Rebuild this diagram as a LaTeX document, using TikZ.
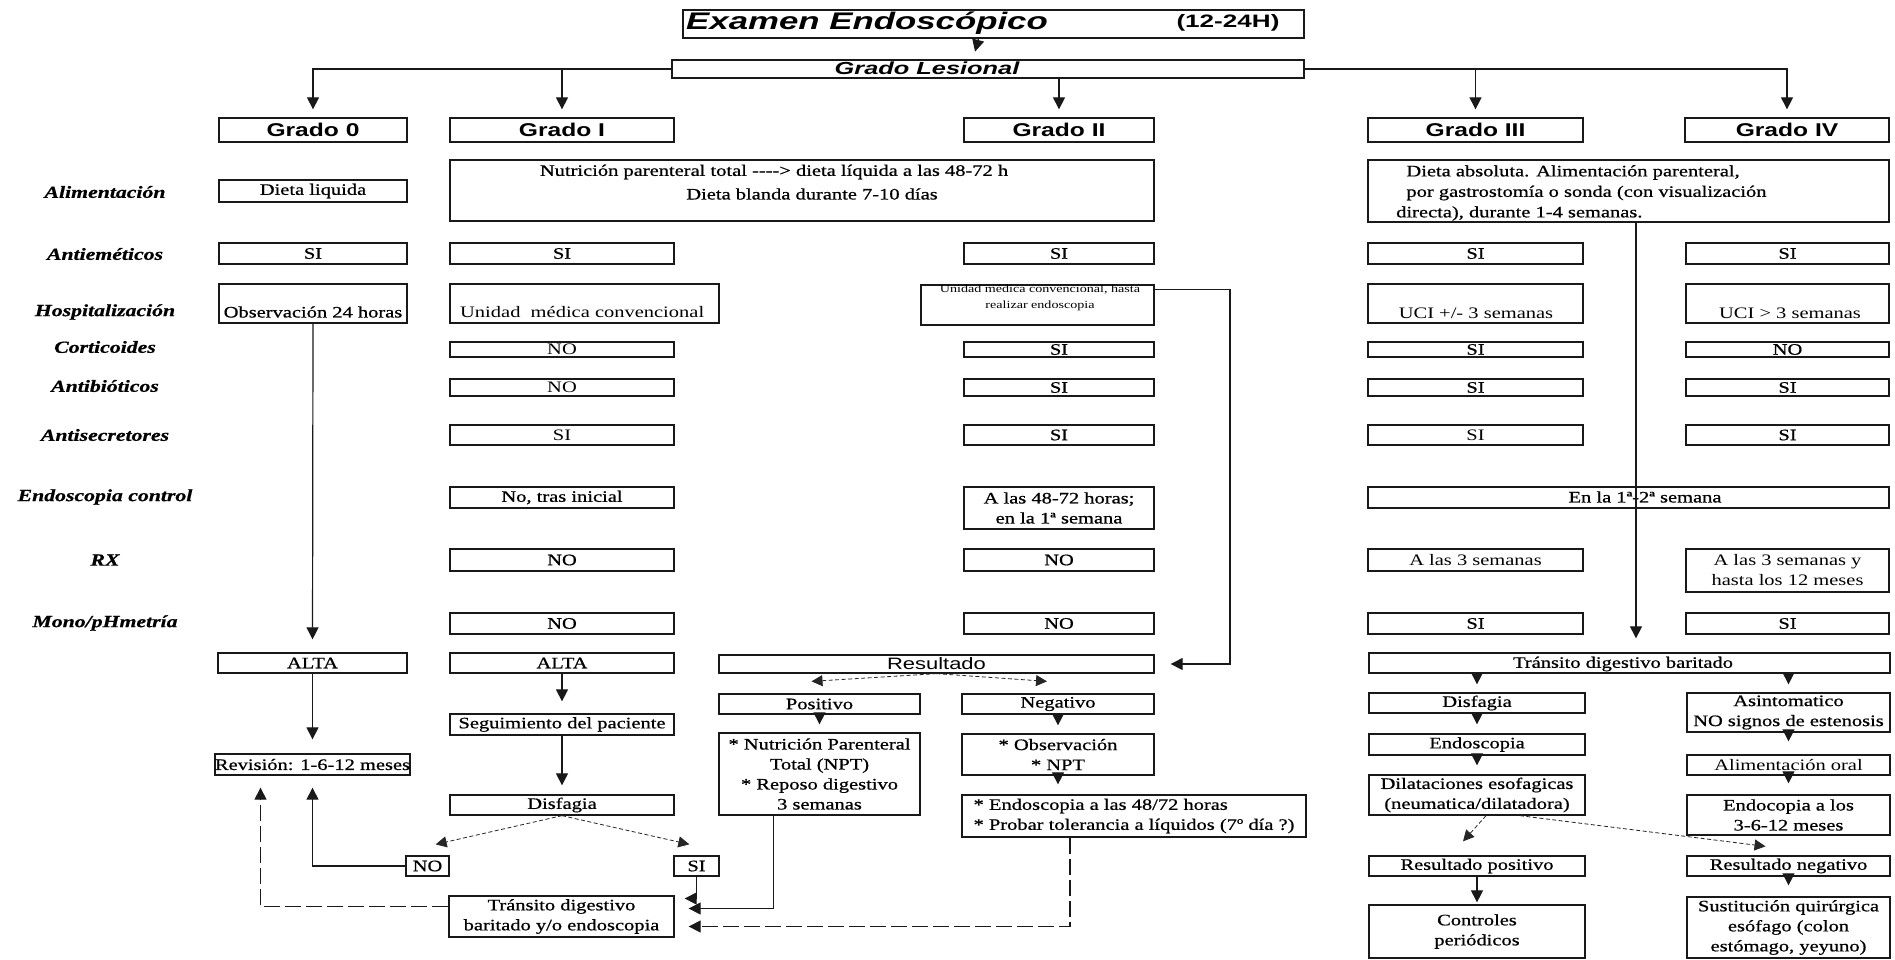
\documentclass[tikz,border=0pt]{standalone}
\usepackage{fontspec}
\setmainfont{Liberation Serif}[FakeStretch=1.28, FakeBold=0.7]
\newfontfamily\lightfont{Liberation Serif}[FakeStretch=1.28]
\newfontfamily\hdfont{Liberation Sans}[FakeStretch=1.33]
\newfontfamily\ttlfont{Liberation Sans}[FakeStretch=1.45]
\usetikzlibrary{arrows.meta}

\tikzset{
  bx/.style={draw=black!90, line width=1.3pt, inner sep=0pt, align=center,
             font=\fontsize{16}{20}\selectfont},
  light/.style={font=\lightfont\fontsize{16}{20}\selectfont},
  tx/.style={inner sep=0pt, align=center, font=\fontsize{16}{20}\selectfont},
  smalltx/.style={inner sep=0pt, align=center, font=\lightfont\fontsize{11}{16}\selectfont},
  rowlabel/.style={inner sep=0pt, font=\fontsize{17}{20}\selectfont\bfseries\itshape},
  grado/.style={font=\hdfont\fontsize{18.5}{22}\selectfont\bfseries},
  conn/.style={line width=1.2pt, black!90},
  arr/.style={conn, -{Triangle[length=12pt,width=12pt]}},
  darr/.style={line width=0.8pt, black!85, dash pattern=on 4pt off 2.5pt,
               -{Triangle[length=11pt,width=11pt]}},
  fbarr/.style={conn, dash pattern=on 16pt off 5pt, -{Triangle[length=12pt,width=12pt]}},
}

% box from (x1,y1) to (x2,y2), in pixel units, y pointing down
\newcommand\bx[7][]{%
  \node[bx,minimum width={(#5)-(#3)},minimum height={(#6)-(#4)},#1]
    (#2) at ({((#3)+(#5))/2},{((#4)+(#6))/2}) {#7};}

\begin{document}
\begin{tikzpicture}[x=1pt,y=-1pt]
\fill[white] (0,0) rectangle (1895,959);
\useasboundingbox (0,0) rectangle (1895,959);

% ---------- header ----------
\bx{title}{683}{10}{1304}{38}{}
\node[anchor=west, inner sep=0pt, font=\ttlfont\fontsize{24}{28}\selectfont\bfseries\itshape]
  (ttext) at (686,23) {Examen Endoscópico};
\node[inner sep=0pt, font=\ttlfont\fontsize{18}{22}\selectfont\bfseries]
  (thrs) at (1228,23) {(12-24H)};
\bx{gl}{672}{60}{1304}{78}{}
\node[inner sep=0pt, font=\ttlfont\fontsize{17.5}{20}\selectfont\bfseries\itshape]
  (gltext) at (927,68) {Grado Lesional};

\bx[grado]{g0}{219}{118}{407}{142}{Grado 0}
\bx[grado]{g1}{450}{118}{674}{142}{Grado I}
\bx[grado]{g2}{964}{118}{1154}{142}{Grado II}
\bx[grado]{g3}{1368}{118}{1583}{142}{Grado III}
\bx[grado]{g4}{1685}{118}{1889}{142}{Grado IV}

% ---------- row labels ----------
\node[rowlabel] (lAl) at (105,192) {Alimentación};
\node[rowlabel] (lAn) at (105,254) {Antieméticos};
\node[rowlabel] (lHo) at (105,312) {Hospitalización};
\node[rowlabel] (lCo) at (105,347) {Corticoides};
\node[rowlabel] (lAb) at (105,386) {Antibióticos};
\node[rowlabel] (lAs) at (105,435) {Antisecretores};
\node[rowlabel] (lEc) at (105,497) {Endoscopia control};
\node[rowlabel] (lRx) at (105,560) {RX};
\node[rowlabel] (lMp) at (105,623) {Mono/pHmetría};

% ---------- Alimentación ----------
\bx{al0}{219}{180}{407}{202}{Dieta liquida}
\bx{al12}{450}{160}{1154}{221}{}
\node[tx] (al12a) at (774,172) {Nutrición parenteral total -{}-{}-{}-> dieta líquida a las 48-72 h};
\node[tx] (al12b) at (812,194) {Dieta blanda durante 7-10 días};
\bx{al34}{1368}{160}{1889}{222}{}
\node[tx, align=left, anchor=west, font=\fontsize{16}{20.5}\selectfont] (al34t) at (1396,193)
  {\ \ Dieta absoluta. Alimentación parenteral,\\
   \ \ por gastrostomía o sonda (con visualización\\
   directa), durante 1-4 semanas.};

% ---------- Antieméticos ----------
\bx{an0}{219}{243}{407}{264}{SI}
\bx{an1}{450}{243}{674}{264}{SI}
\bx{an2}{964}{243}{1154}{264}{SI}
\bx{an3}{1368}{243}{1583}{264}{SI}
\bx{an4}{1686}{243}{1889}{264}{SI}

% ---------- Hospitalización ----------
\bx{h0}{219}{284}{407}{323}{}
\node[tx] (h0t) at (313,312) {Observación 24 horas};
\bx{h1}{450}{284}{719}{323}{}
\node[tx, light, anchor=west] (h1t) at (460,312) {Unidad\ \ médica convencional};
\bx{h2}{921}{285}{1154}{325}{}
\node[smalltx] (h2t) at (1040,298) {Unidad médica convencional, hasta\\ realizar endoscopia};
\bx{h3}{1368}{284}{1583}{323}{}
\node[tx, light] (h3t) at (1476,313) {UCI +/- 3 semanas};
\bx{h4}{1686}{284}{1889}{323}{}
\node[tx, light] (h4t) at (1790,313) {UCI > 3 semanas};

% ---------- Corticoides ----------
\bx[light]{co1}{450}{342}{674}{357}{NO}
\bx{co2}{964}{342}{1154}{357}{SI}
\bx{co3}{1368}{342}{1583}{357}{SI}
\bx{co4}{1686}{342}{1889}{357}{NO}

% ---------- Antibióticos ----------
\bx[light]{ab1}{450}{379}{674}{396}{NO}
\bx{ab2}{964}{379}{1154}{396}{SI}
\bx{ab3}{1368}{379}{1583}{396}{SI}
\bx{ab4}{1686}{379}{1889}{396}{SI}

% ---------- Antisecretores ----------
\bx[light]{as1}{450}{425}{674}{445}{SI}
\bx{as2}{964}{425}{1154}{445}{SI}
\bx[light]{as3}{1368}{425}{1583}{445}{SI}
\bx{as4}{1686}{425}{1889}{445}{SI}

% ---------- Endoscopia control ----------
\bx{ec1}{450}{487}{674}{508}{No, tras inicial}
\bx{ec2}{964}{487}{1154}{529}{A las 48-72 horas;\\ en la 1ª semana}
\bx{ec34}{1368}{487}{1889}{508}{}
\node[tx] (ec34t) at (1645,497) {En la 1ª-2ª semana};

% ---------- RX ----------
\bx{rx1}{450}{549}{674}{571}{NO}
\bx{rx2}{964}{549}{1154}{571}{NO}
\bx[light]{rx3}{1368}{549}{1583}{571}{A las 3 semanas}
\bx[light]{rx4}{1686}{549}{1889}{592}{A las 3 semanas y\\ hasta los 12 meses}

% ---------- Mono/pHmetría ----------
\bx{mp1}{450}{613}{674}{634}{NO}
\bx{mp2}{964}{613}{1154}{634}{NO}
\bx{mp3}{1368}{613}{1583}{634}{SI}
\bx{mp4}{1686}{613}{1889}{634}{SI}

% ---------- lower part: grades 0 and I ----------
\bx{a0}{218}{653}{407}{673}{ALTA}
\bx{a1}{450}{653}{674}{673}{ALTA}
\bx{rev}{218}{754}{407}{775}{Revisión: 1-6-12 meses}
\bx{seg}{450}{714}{674}{735}{Seguimiento del paciente}
\bx{dis}{450}{795}{674}{815}{Disfagia}
\bx{no}{406}{856}{449}{876}{NO}
\bx{si}{674}{856}{719}{876}{SI}
\bx{tr}{449}{896}{674}{937}{Tránsito digestivo\\ baritado y/o endoscopia}

% ---------- lower part: grade II ----------
\bx[font=\hdfont\fontsize{16.5}{20}\selectfont]{res}{719}{655}{1154}{673}{Resultado}
\bx{pos}{719}{694}{920}{714}{Positivo}
\bx{neg}{962}{694}{1154}{714}{Negativo}
\bx{npt}{719}{733}{920}{815}{* Nutrición Parenteral\\ Total (NPT)\\ * Reposo digestivo\\ 3 semanas}
\bx{obs}{962}{734}{1154}{775}{* Observación\\ * NPT}
\bx[align=left]{e48}{962}{795}{1306}{837}{* Endoscopia a las 48/72 horas\\ * Probar tolerancia a líquidos (7º día ?)}

% ---------- lower part: grades III and IV ----------
\bx{tb}{1369}{653}{1890}{673}{}
\node[tx] (tbt) at (1623,664) {Tránsito digestivo baritado};
\bx{d3}{1369}{693}{1585}{713}{Disfagia}
\bx{en3}{1369}{734}{1585}{755}{Endoscopia}
\bx{dil}{1369}{775}{1585}{815}{Dilataciones esofagicas\\ (neumatica/dilatadora)}
\bx{rp}{1369}{856}{1585}{876}{Resultado positivo}
\bx{cp}{1369}{905}{1585}{958}{Controles\\ periódicos}
\bx{asi}{1687}{693}{1890}{732}{Asintomatico\\ NO signos de estenosis}
\bx[light]{ao}{1687}{755}{1890}{775}{Alimentación oral}
\bx{e36}{1687}{795}{1890}{835}{Endocopia a los\\ 3-6-12 meses}
\bx{rn}{1687}{856}{1890}{876}{Resultado negativo}
\bx{sq}{1687}{897}{1890}{958}{Sustitución quirúrgica\\ esófago (colon\\ estómago, yeyuno)}

% ---------- connectors: header ----------
\draw[arr,shorten >=8pt] ([xshift=-15pt]title.south) -- ([xshift=-15pt]gl.north);
\draw[arr,shorten >=8pt] (gl.west) -| (g0.north);
\draw[arr,shorten >=8pt] (gl.west -| g1.north) -- (g1.north);
\draw[arr,shorten >=8pt] (gl.south -| g2.north) -- (g2.north);
\draw[arr,shorten >=8pt] (gl.east) -| (g4.north);
\draw[arr,shorten >=8pt] (gl.east -| g3.north) -- (g3.north);

% ---------- connectors: long verticals ----------
\draw[arr,shorten >=13pt] (h0.south) -- (a0.north);
\coordinate (h2turn) at (1230,400);
\draw[arr,shorten >=16pt] ([yshift=-5pt]h2.north east) -| (h2turn) |- (res.east);
\draw[arr,shorten >=14pt] ([xshift=7.5pt]al34.south) -- ([xshift=6.5pt]tb.north);

% ---------- connectors: grades 0 and I ----------
\draw[arr,shorten >=14pt] (a0.south) -- (rev.north);
\draw[arr,shorten >=12pt] (a1.south) -- (seg.north);
\draw[arr,shorten >=9pt] (seg.south) -- (dis.north);
\draw[darr] (dis.south) -- ([xshift=-14pt,yshift=11pt]no.north east);
\draw[darr] (dis.south) -- ([xshift=16pt,yshift=11pt]si.north west);
\draw[arr,shorten >=12pt] (no.west) -| (rev.south);
\draw[fbarr,shorten >=12pt] ([yshift=10pt]tr.west) -| ([xshift=-52pt]rev.south);
\draw[arr] (si.south) |- ([xshift=10pt,yshift=18pt]tr.east);

% ---------- connectors: grade II ----------
\draw[darr] (res.south) -- ([xshift=-8pt,yshift=12pt]pos.north);
\draw[darr] (res.south) -- ([xshift=-11pt,yshift=12pt]neg.north);
\draw[arr,shorten >=8pt] (pos.south) -- (npt.north);
\draw[arr,shorten >=8pt] (neg.south) -- (obs.north);
\draw[arr,shorten >=10pt] (obs.south) -- (obs.south |- e48.north);
\draw[arr] ([xshift=-46pt]npt.south) |- ([xshift=14pt,yshift=8pt]tr.east);
\draw[fbarr] ([xshift=-64pt]e48.south) |- ([xshift=14pt,yshift=-10pt]tr.east);

% ---------- connectors: grades III and IV ----------
\draw[arr,shorten >=8pt] (tb.south -| d3.north) -- (d3.north);
\draw[arr,shorten >=8pt] (tb.south -| asi.north) -- (asi.north);
\draw[arr,shorten >=9pt] (d3.south) -- (en3.north);
\draw[arr,shorten >=9pt] (en3.south) -- (dil.north);
\draw[darr] ([xshift=9pt]dil.south) -- ([xshift=-14pt,yshift=14pt]rp.north);
\draw[darr] ([xshift=43pt]dil.south) -- ([xshift=-23pt,yshift=9pt]rn.north);
\draw[arr,shorten >=2pt] (rp.south) -- (cp.north);
\draw[arr,shorten >=13pt] (asi.south) -- (ao.north);
\draw[arr,shorten >=11pt] (ao.south) -- (e36.north);
\draw[arr,shorten >=11pt] (rn.south) -- (sq.north);
\end{tikzpicture}
\end{document}
